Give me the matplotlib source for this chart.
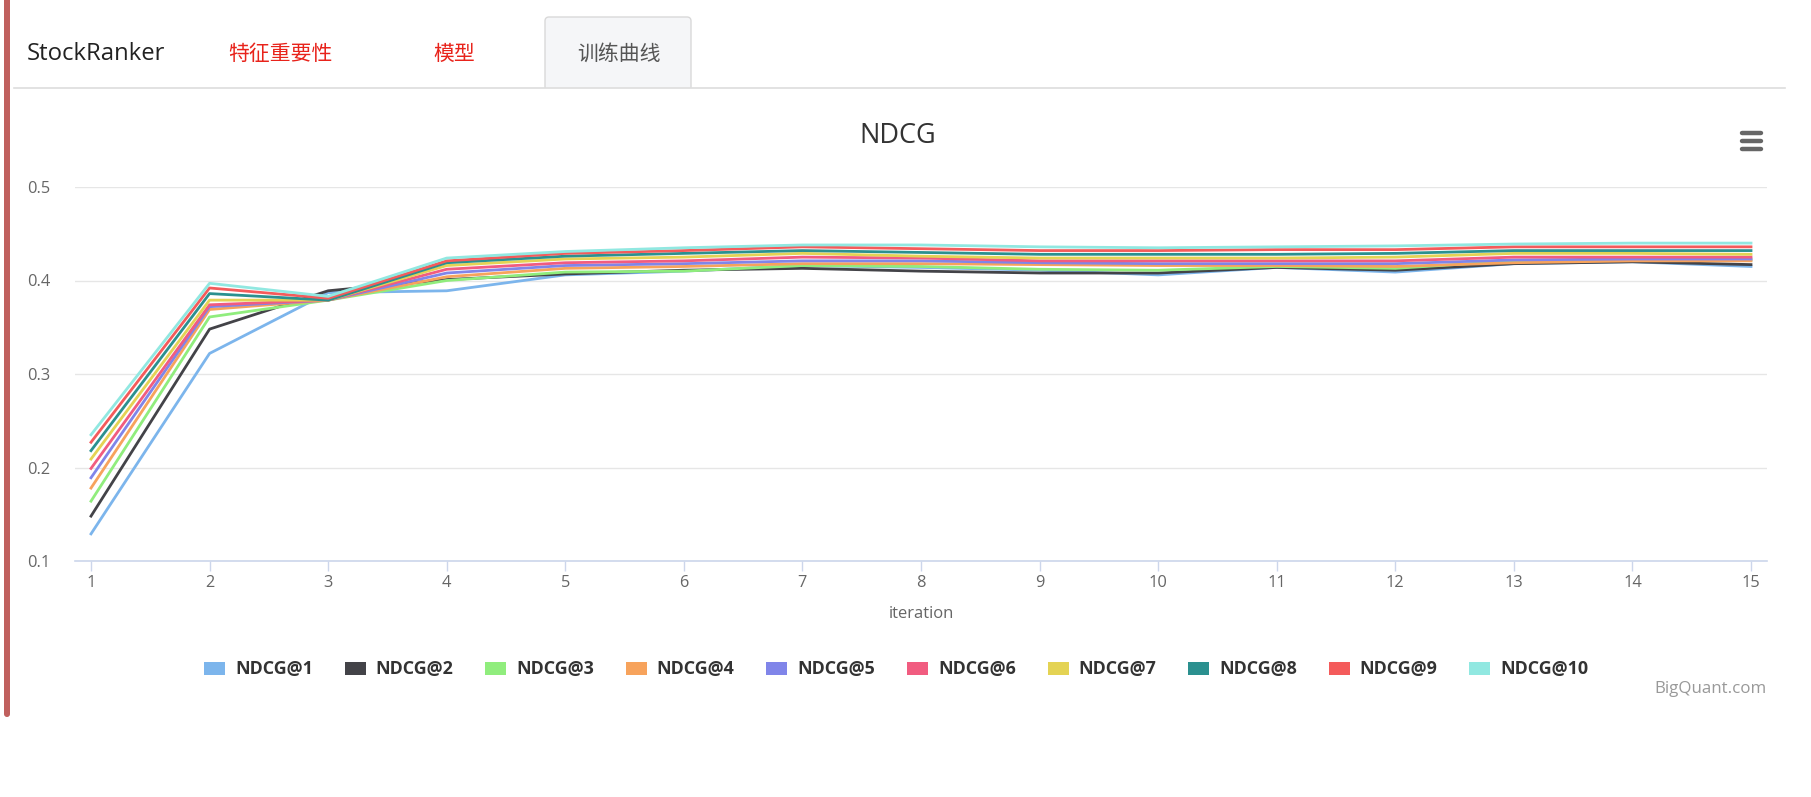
import matplotlib
matplotlib.use("Agg")
import matplotlib.pyplot as plt
from matplotlib.patches import Rectangle, FancyBboxPatch

# data
iterations = list(range(1, 16))
series_names = ["NDCG@1", "NDCG@2", "NDCG@3", "NDCG@4", "NDCG@5",
                "NDCG@6", "NDCG@7", "NDCG@8", "NDCG@9", "NDCG@10"]
ndcg1 = [0.129, 0.322, 0.387, 0.389, 0.406, 0.410, 0.416, 0.414, 0.411, 0.406, 0.414, 0.409, 0.418, 0.420, 0.415]
ndcg2 = [0.148, 0.348, 0.389, 0.401, 0.407, 0.411, 0.413, 0.410, 0.408, 0.408, 0.414, 0.411, 0.418, 0.420, 0.417]
ndcg3 = [0.164, 0.361, 0.379, 0.400, 0.409, 0.410, 0.416, 0.415, 0.412, 0.411, 0.415, 0.413, 0.421, 0.422, 0.422]
ndcg4 = [0.178, 0.369, 0.379, 0.404, 0.413, 0.415, 0.418, 0.418, 0.417, 0.416, 0.416, 0.415, 0.419, 0.421, 0.421]
ndcg5 = [0.189, 0.372, 0.379, 0.408, 0.416, 0.418, 0.421, 0.421, 0.419, 0.418, 0.418, 0.418, 0.422, 0.423, 0.423]
ndcg6 = [0.199, 0.374, 0.379, 0.412, 0.419, 0.421, 0.425, 0.424, 0.421, 0.421, 0.421, 0.421, 0.425, 0.425, 0.425]
ndcg7 = [0.209, 0.379, 0.379, 0.416, 0.423, 0.425, 0.429, 0.426, 0.424, 0.424, 0.424, 0.425, 0.429, 0.429, 0.428]
ndcg8 = [0.218, 0.386, 0.379, 0.419, 0.426, 0.429, 0.432, 0.430, 0.428, 0.428, 0.428, 0.429, 0.432, 0.432, 0.432]
ndcg9 = [0.227, 0.392, 0.381, 0.421, 0.429, 0.432, 0.436, 0.434, 0.432, 0.432, 0.433, 0.433, 0.436, 0.436, 0.436]
ndcg10 = [0.235, 0.397, 0.383, 0.424, 0.431, 0.435, 0.438, 0.438, 0.436, 0.435, 0.436, 0.437, 0.439, 0.440, 0.440]
all_series = [ndcg1, ndcg2, ndcg3, ndcg4, ndcg5, ndcg6, ndcg7, ndcg8, ndcg9, ndcg10]
colors = ["#7cb5ec", "#434348", "#90ed7d", "#f7a35c", "#8085e9",
          "#f15c80", "#e4d354", "#2b908f", "#f45b5b", "#91e8e1"]
y_ticks = [0.1, 0.2, 0.3, 0.4, 0.5]
tabs = ["特征重要性", "模型", "训练曲线"]

W, H = 1811, 797
fig = plt.figure(figsize=(W / 100, H / 100), dpi=100)
fig.patch.set_facecolor("white")

# page overlay in pixel coords
page = fig.add_axes([0, 0, 1, 1], zorder=0)
page.set_xlim(0, W)
page.set_ylim(H, 0)
page.axis("off")

page.add_patch(FancyBboxPatch((4, -10), 6, 727, boxstyle="round,pad=0,rounding_size=3",
                              facecolor="#c0605e", edgecolor="none"))
page.add_patch(FancyBboxPatch((545, 17), 146, 90, boxstyle="round,pad=0,rounding_size=4",
                              facecolor="#f5f6f8", edgecolor="#d9d9d9", linewidth=1))
page.add_patch(Rectangle((540, 88), 160, 30, facecolor="white", edgecolor="none"))
page.plot([14, 1785], [87.5, 87.5], color="#dddddd", lw=1.2)

page.text(27, 54, "StockRanker", fontsize=17.2, color="#222222", va="center",
          family=["Open Sans", "DejaVu Sans"])
page.text(280, 54, tabs[0], fontsize=15, color="#e8231b", ha="center", va="center",
          family=["Noto Sans CJK SC", "DejaVu Sans"])
page.text(454, 54, tabs[1], fontsize=15, color="#e8231b", ha="center", va="center",
          family=["Noto Sans CJK SC", "DejaVu Sans"])
page.text(619, 54, tabs[2], fontsize=15, color="#555555", ha="center", va="center",
          family=["Noto Sans CJK SC", "DejaVu Sans"])

page.text(898, 136, "NDCG", fontsize=19.5, color="#333333", ha="center", va="center",
          family=["Open Sans", "DejaVu Sans"])

# menu icon
for yy in (133, 141, 149):
    page.plot([1742, 1761], [yy, yy], color="#666666", lw=3.2, solid_capstyle="round")

# legend
for i, (name, c) in enumerate(zip(series_names, colors)):
    x0 = 204 + i * 140.6
    page.add_patch(Rectangle((x0, 662), 21, 13, facecolor=c, edgecolor="none"))
    page.text(x0 + 31, 669, name, fontsize=12.9, fontweight="bold", color="#333333",
              va="center", family=["Open Sans", "DejaVu Sans"])

page.text(1767, 689, "BigQuant.com", fontsize=12.2, color="#999999", ha="right", va="center",
          family=["Open Sans", "DejaVu Sans"])

# chart
left, right, top, bottom = 75, 1767, 187, 561
ax = fig.add_axes([left / W, 1 - bottom / H, (right - left) / W, (bottom - top) / H], zorder=1)
ax.patch.set_alpha(0)
for k, (vals, c) in enumerate(zip(all_series, colors)):
    ax.plot(iterations, vals, color=c, lw=2.0, zorder=3 + k)

ax.set_xlim(1 - 16 / 118.57, 15 + 16 / 118.57)
ax.set_ylim(0.1, 0.5)
ax.set_xticks(iterations)
ax.set_yticks(y_ticks)
ax.set_yticklabels([f"{v:.1f}" for v in y_ticks])
ax.grid(axis="y", color="#e6e6e6", lw=1)
ax.set_axisbelow(True)
for s in ("top", "right", "left"):
    ax.spines[s].set_visible(False)
ax.spines["bottom"].set_color("#ccd6eb")
ax.spines["bottom"].set_linewidth(1.2)
ax.tick_params(axis="x", length=7, color="#ccd6eb", width=1, pad=3,
               labelsize=11.8, labelcolor="#666666")
ax.tick_params(axis="y", length=0, pad=18, labelsize=11.8, labelcolor="#666666")
for lab in ax.get_xticklabels() + ax.get_yticklabels():
    lab.set_family(["Open Sans", "DejaVu Sans"])
ax.set_xlabel("iteration", fontsize=12, color="#666666", labelpad=11,
              family=["Open Sans", "DejaVu Sans"])

fig.savefig("out.png", dpi=100)
